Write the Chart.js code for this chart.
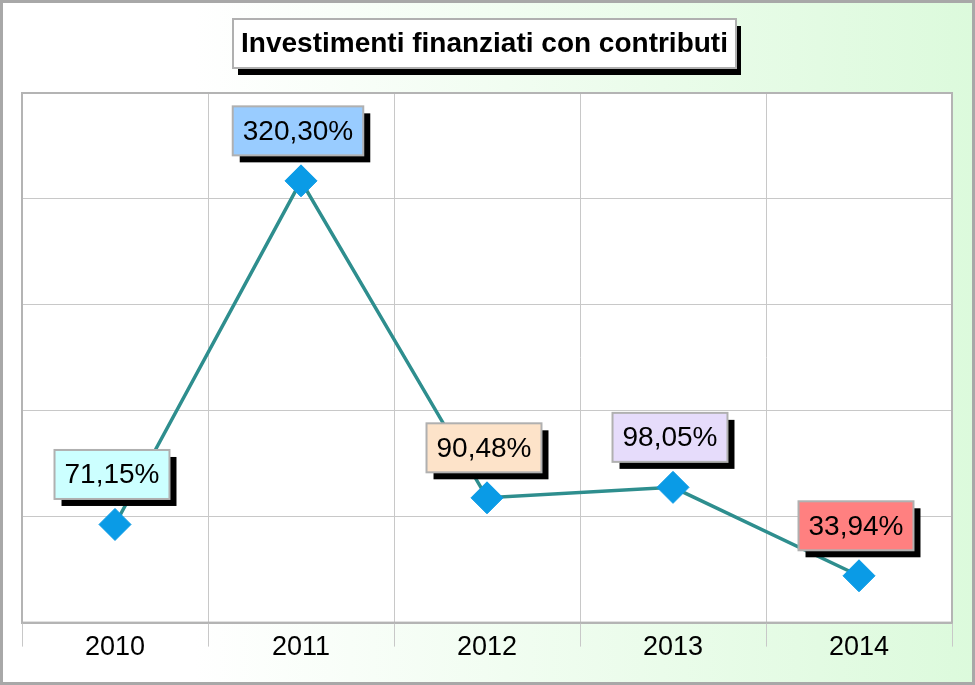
<!DOCTYPE html>
<html>
<head>
<meta charset="utf-8">
<script src="https://cdn.jsdelivr.net/npm/chart.js@4.4.1/dist/chart.umd.min.js"></script>
<style>
  html, body { margin: 0; padding: 0; background: #fff; }
  #wrap { width: 975px; height: 685px; position: relative; }
</style>
</head>
<body>
<div id="wrap"><canvas id="investChart" width="975" height="685"></canvas></div>
<script>
// Chart data
const titleText = 'Investimenti finanziati con contributi';
const years = ['2010', '2011', '2012', '2013', '2014'];
const percentValues = [71.15, 320.30, 90.48, 98.05, 33.94];
const labelColors = ['#ccffff', '#99ccff', '#fde3c9', '#e6dcfb', '#ff8080'];

function fmtPct(v) {
  return v.toFixed(2).replace('.', ',') + '%';
}

// background gradient + frame + white plot area
const backgroundPlugin = {
  id: 'bgPlugin',
  beforeDraw(chart) {
    const { ctx, width, height, chartArea } = chart;
    ctx.save();
    const g = ctx.createLinearGradient(0, 0, width, 0);
    g.addColorStop(0, '#ffffff');
    g.addColorStop(0.2, '#ffffff');
    g.addColorStop(1, '#dcfadc');
    ctx.fillStyle = g;
    ctx.fillRect(0, 0, width, height);
    ctx.strokeStyle = '#a8a8a8';
    ctx.lineWidth = 3;
    ctx.strokeRect(1.5, 1.5, width - 3, height - 3);
    ctx.fillStyle = '#ffffff';
    ctx.fillRect(chartArea.left, chartArea.top, chartArea.right - chartArea.left, chartArea.bottom - chartArea.top);
    ctx.restore();
  },
  beforeDatasetsDraw(chart) {
    const { ctx, chartArea } = chart;
    const xs = chart.scales.x;
    ctx.save();
    // tick marks below the axis at the category edges
    ctx.strokeStyle = '#c8c8c8';
    ctx.lineWidth = 1;
    const step = (xs.right - xs.left) / years.length;
    for (let i = 0; i <= years.length; i++) {
      const px = Math.round(xs.left + i * step) + 0.5;
      ctx.beginPath();
      ctx.moveTo(px, chartArea.bottom);
      ctx.lineTo(px, chartArea.bottom + 24);
      ctx.stroke();
    }
    ctx.strokeStyle = '#b4b4b4';
    ctx.lineWidth = 2;
    ctx.strokeRect(chartArea.left, chartArea.top, chartArea.right - chartArea.left, chartArea.bottom - chartArea.top);
    ctx.restore();
  }
};

// boxed title with drop shadow
const titleBoxPlugin = {
  id: 'titleBox',
  afterDraw(chart) {
    const { ctx } = chart;
    const x = 233, y = 19, w = 503, h = 49;
    ctx.save();
    ctx.fillStyle = '#000';
    ctx.fillRect(x + 5, y + 7, w, h);
    ctx.fillStyle = '#fff';
    ctx.fillRect(x, y, w, h);
    ctx.strokeStyle = '#b0b0b0';
    ctx.lineWidth = 2;
    ctx.strokeRect(x, y, w, h);
    ctx.fillStyle = '#000';
    ctx.font = 'bold 28px "Liberation Sans", Arial, sans-serif';
    ctx.textAlign = 'center';
    ctx.textBaseline = 'middle';
    ctx.fillText(titleText, x + w / 2, y + h / 2 + 1);
    ctx.restore();
  }
};

// value labels in coloured boxes above each point
const valueBoxPlugin = {
  id: 'valueBoxes',
  afterDatasetsDraw(chart) {
    const { ctx } = chart;
    const meta = chart.getDatasetMeta(0);
    ctx.save();
    ctx.font = '28px "Liberation Sans", Arial, sans-serif';
    ctx.textAlign = 'center';
    ctx.textBaseline = 'middle';
    meta.data.forEach((pt, i) => {
      const txt = fmtPct(percentValues[i]);
      const tw = ctx.measureText(txt).width;
      const w = tw + 20, h = 49;
      const cx = pt.x - 3, cy = pt.y - 50;
      const x = cx - w / 2, y = cy - h / 2;
      ctx.fillStyle = '#000';
      ctx.fillRect(x + 7, y + 7, w, h);
      ctx.fillStyle = labelColors[i];
      ctx.fillRect(x, y, w, h);
      ctx.strokeStyle = '#b0b0b0';
      ctx.lineWidth = 2;
      ctx.strokeRect(x, y, w, h);
      ctx.fillStyle = '#000';
      ctx.fillText(txt, cx, cy + 1);
    });
    ctx.restore();
  }
};

const ctx = document.getElementById('investChart').getContext('2d');
new Chart(ctx, {
  type: 'line',
  data: {
    labels: years,
    datasets: [{
      data: percentValues,
      borderColor: '#2e8e8e',
      borderWidth: 3.5,
      tension: 0,
      pointStyle: 'rectRot',
      pointRadius: 16,
      pointHoverRadius: 16,
      pointBackgroundColor: '#0a9be6',
      pointBorderColor: '#0a9be6',
      pointBorderWidth: 1
    }]
  },
  options: {
    responsive: false,
    animation: false,
    events: [],
    layout: { padding: { left: 22, right: 23, top: 93, bottom: 12 } },
    plugins: {
      legend: { display: false },
      title: { display: false },
      tooltip: { enabled: false }
    },
    scales: {
      x: {
        offset: true,
        grid: { offset: true, color: '#c8c8c8', lineWidth: 1, drawTicks: false },
        border: { display: true, color: '#b4b4b4', width: 2 },
        ticks: {
          color: '#000',
          padding: 9,
          font: { family: '"Liberation Sans", Arial, sans-serif', size: 27 }
        }
      },
      y: {
        min: 0,
        max: 384,
        ticks: { display: false, count: 6 },
        grid: { color: '#c8c8c8', lineWidth: 1, drawTicks: false },
        border: { display: false }
      }
    }
  },
  plugins: [backgroundPlugin, titleBoxPlugin, valueBoxPlugin]
});
</script>
</body>
</html>
